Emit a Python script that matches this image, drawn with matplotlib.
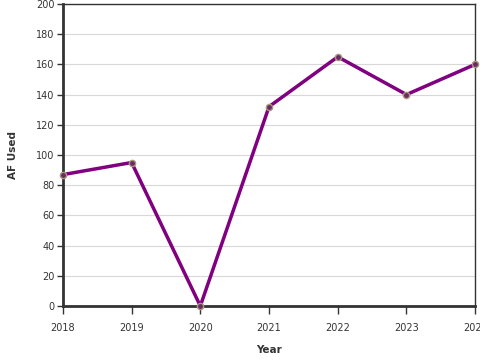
import matplotlib
matplotlib.use("Agg")
import matplotlib.pyplot as plt

years = [2018, 2019, 2020, 2021, 2022, 2023, 2024]
af_used = [87, 95, 0, 132, 165, 140, 160]
yticks = [0, 20, 40, 60, 80, 100, 120, 140, 160, 180, 200]

fig = plt.figure(figsize=(4.8, 3.6), dpi=100)
ax = fig.add_axes([0.131, 0.15, 0.859, 0.839])
ax.plot(years, af_used, color="#800080", lw=2.5, zorder=3,
        marker="o", markersize=4.5, markerfacecolor="#6a2a6a",
        markeredgecolor="#a89a7a", markeredgewidth=1.0, clip_on=False)
ax.set_xlim(2018, 2024)
ax.set_ylim(0, 200)
ax.set_yticks(yticks)
ax.set_xticks(years)
ax.set_xticklabels([str(y) for y in years])
ax.grid(axis="y", color="#d8d8d8", lw=0.8)
ax.set_axisbelow(True)
for s in ["left", "bottom"]:
    ax.spines[s].set_linewidth(2)
    ax.spines[s].set_color("#333333")
for s in ["top", "right"]:
    ax.spines[s].set_linewidth(1)
    ax.spines[s].set_color("#333333")
ax.tick_params(axis="both", labelsize=7, length=4, width=1, color="#333333", labelcolor="#333333", pad=2)
ax.tick_params(axis="x", length=6, pad=6)
ax.set_xlabel("Year", fontsize=7.5, fontweight="bold", color="#333333", labelpad=9)
ax.set_ylabel("AF Used", fontsize=7.5, fontweight="bold", color="#333333", labelpad=13)
fig.savefig("out.png", dpi=100)
